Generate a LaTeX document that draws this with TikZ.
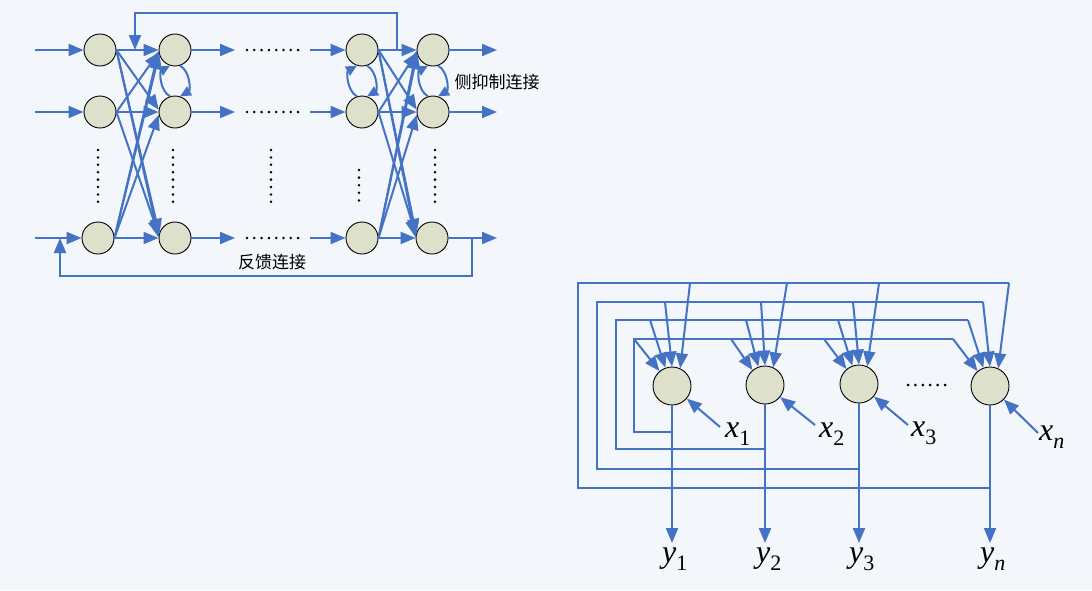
\documentclass[tikz,border=0pt]{standalone}
\usepackage{fontspec}
\setmainfont{Liberation Serif}
\newfontfamily\cjk{Noto Sans CJK SC}
\usetikzlibrary{arrows.meta}
\definecolor{lnblue}{RGB}{68,114,196}
\definecolor{nodefill}{RGB}{221,225,203}
\definecolor{bgc}{RGB}{243,246,251}
\newcommand{\sbs}[1]{\raisebox{-8pt}{\fontsize{22}{22}\selectfont #1}}
\begin{document}
\begin{tikzpicture}[x=1pt,y=-1pt,
  neuron/.style={circle,draw=black,line width=0.9pt,fill=nodefill,minimum size=32pt,inner sep=0pt},
  hneuron/.style={neuron,minimum size=38pt},
  conn/.style={draw=lnblue,line width=2pt},
  arr/.style={conn,-{Triangle[length=15pt,width=12pt]}},
  loopar/.style={conn,-{Triangle[length=11pt,width=10pt]}},
  harr/.style={conn,-{Triangle[length=15pt,width=12pt]}},
  lab/.style={inner sep=0pt,anchor=base west,font=\fontsize{32}{32}\selectfont\itshape},
  cjklab/.style={inner sep=0pt,font=\cjk\fontsize{17}{17}\selectfont}
]
\fill[bgc] (0,0) rectangle (1092,590);
\useasboundingbox (0,0) rectangle (1092,590);

% ---------- left network ----------
\node[neuron] (A1) at (100,50) {};
\node[neuron] (A2) at (100,112) {};
\node[neuron] (A3) at (98,238) {};
\node[neuron] (B1) at (175,50) {};
\node[neuron] (B2) at (175,112) {};
\node[neuron] (B3) at (175,238) {};
\node[neuron] (C1) at (362,50) {};
\node[neuron] (C2) at (362,112) {};
\node[neuron] (C3) at (362,238) {};
\node[neuron] (D1) at (433,50) {};
\node[neuron] (D2) at (433,112) {};
\node[neuron] (D3) at (432,238) {};

\foreach \r/\y in {1/50,2/112,3/238}{
  \coordinate (in\r) at (35,\y);
  \coordinate (bo\r) at (235,\y);
  \coordinate (ci\r) at (310,\y);
  \coordinate (do\r) at (497,\y);
  \draw[arr] (in\r) -- (A\r);
  \draw[arr] (A\r) -- (B\r);
  \draw[arr] (B\r) -- (bo\r);
  \draw[arr] (ci\r) -- (C\r);
  \draw[arr] (C\r) -- (D\r);
  \draw[arr] (D\r) -- (do\r);
  \foreach \k in {0,...,7} \fill (247+\k*7.3,\y) circle (1.4pt);
}

% crossing connections (east of source to west side of target)
\foreach \S/\T in {A/B,C/D}{
  \draw[arr] (\S1.east) -- (\T2.172);
  \draw[arr] (\S1.east) -- (\T3.165);
  \draw[arr] (\S1.east) -- (\T3.178);
  \draw[arr] (\S2.east) -- (\T1.-172);
  \draw[arr] (\S2.east) -- (\T3.170);
  \draw[arr] (\S3.east) -- (\T1.-165);
  \draw[arr] (\S3.east) -- (\T1.-178);
  \draw[arr] (\S3.east) -- (\T2.-170);
}

% lateral loops
\foreach \N in {B,C,D}{
  \draw[loopar] (\N2.108) to[out=150,in=210] (\N1.252);
  \draw[loopar] (\N1.288) to[out=-30,in=30] (\N2.72);
}

% feedback top
\coordinate (ft0) at (397,50);
\coordinate (ft1) at (397,13);
\coordinate (ft2) at (135,13);
\coordinate (ft3) at (135,50);
\draw[arr] (ft0) -- (ft1) -- (ft2) -- (ft3);
% feedback bottom
\coordinate (fb0) at (472,238);
\coordinate (fb1) at (472,276);
\coordinate (fb2) at (60,276);
\coordinate (fb3) at (60,238);
\draw[arr] (fb0) -- (fb1) -- (fb2) -- (fb3);

% vertical dots
\foreach \x in {98,173,271,435}{
  \foreach \k in {0,...,7} \fill (\x,150+\k*7.4) circle (1.4pt);
}
\foreach \k in {0,...,4} \fill (359,170+\k*7.6) circle (1.4pt);

\node[cjklab] (lat) at (497,82) {侧抑制连接};
\node[cjklab] (fbl) at (272,262) {反馈连接};

% ---------- right network (Hopfield) ----------
\node[hneuron] (N1) at (672,386) {};
\node[hneuron] (N2) at (765,385) {};
\node[hneuron] (N3) at (859,384) {};
\node[hneuron] (N4) at (990,386) {};

\foreach \k/\b/\l/\t/\e in {1/432/634/339/953,2/449/616/320/968,3/469/597/302/983,4/488/578/283/1009}{
  \coordinate (lb\k) at (N\k.south |- 0,\b);
  \coordinate (lc\k) at (\l,\b);
  \coordinate (ld\k) at (\l,\t);
  \coordinate (le\k) at (\e,\t);
  \draw[conn] (lb\k) -- (lc\k) -- (ld\k) -- (le\k);
}

% branches into every neuron
\foreach \j/\sa/\sb/\sc/\sd in {1/634/650/665/690,2/731/746/761/787,3/824/838/853/879,4/953/968/983/1009}{
  \coordinate (p\j a) at (\sa,339);
  \coordinate (p\j b) at (\sb,320);
  \coordinate (p\j c) at (\sc,302);
  \coordinate (p\j d) at (\sd,283);
  \draw[harr] (p\j a) -- (N\j.130);
  \draw[harr] (p\j b) -- (N\j.110);
  \draw[harr] (p\j c) -- (N\j.90);
  \draw[harr] (p\j d) -- (N\j.65);
}

% outputs
\foreach \k in {1,...,4}{
  \coordinate (o\k) at (N\k.south |- 0,543);
  \draw[harr] (N\k.south) -- (o\k);
}

% inputs
\coordinate (i1) at (720,427);
\coordinate (i2) at (815,425);
\coordinate (i3) at (908,425);
\coordinate (i4) at (1038,433);
\foreach \k in {1,...,4} \draw[harr] (i\k) -- (N\k);

\node[lab] (x1) at (725,437) {x\sbs{\upshape 1}};
\node[lab] (x2) at (819,437) {x\sbs{\upshape 2}};
\node[lab] (x3) at (911,436) {x\sbs{\upshape 3}};
\node[lab] (xn) at (1039,440) {x\sbs{n}};

\node[lab] (y1) at (662,562) {y\sbs{\upshape 1}};
\node[lab] (y2) at (756,562) {y\sbs{\upshape 2}};
\node[lab] (y3) at (849,562) {y\sbs{\upshape 3}};
\node[lab] (yn) at (980,562) {y\sbs{n}};

\foreach \k in {0,...,5} \fill (908+\k*7.4,385) circle (1.5pt);
\end{tikzpicture}
\end{document}
